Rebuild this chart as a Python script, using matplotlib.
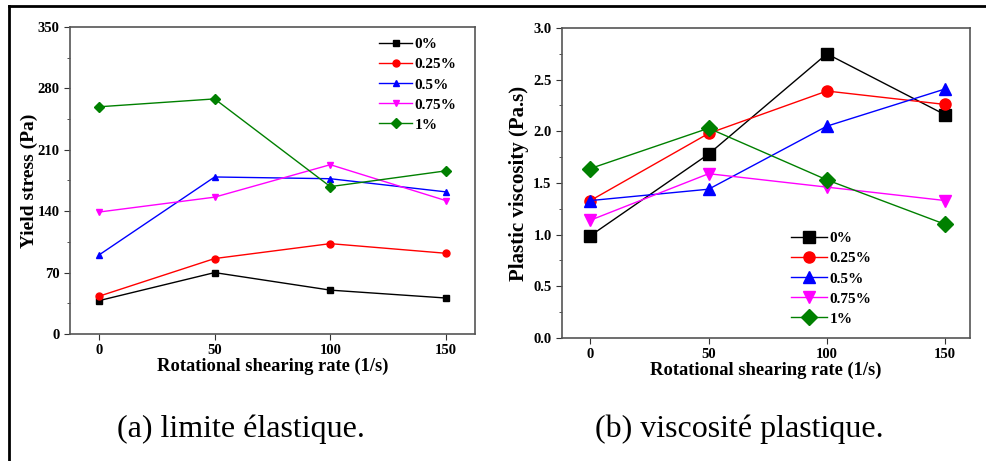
import matplotlib.pyplot as plt
from matplotlib.lines import Line2D
from matplotlib.ticker import MultipleLocator

plt.rcParams["font.family"] = "Liberation Serif"
plt.rcParams["font.weight"] = "bold"

rates = [0, 50, 100, 150]
labels = ["0%", "0.25%", "0.5%", "0.75%", "1%"]
colors = ["black", "red", "blue", "magenta", "green"]
markers = ["s", "o", "^", "v", "D"]

# yield stress (Pa)
yield_0 = [38, 70, 50, 41]
yield_025 = [43, 86, 103, 92]
yield_05 = [90, 179, 177, 162]
yield_075 = [139, 156, 193, 152]
yield_1 = [259, 268, 168, 186]

# plastic viscosity (Pa.s)
visc_0 = [0.99, 1.78, 2.75, 2.16]
visc_025 = [1.33, 1.98, 2.39, 2.26]
visc_05 = [1.33, 1.44, 2.05, 2.41]
visc_075 = [1.14, 1.59, 1.46, 1.33]
visc_1 = [1.64, 2.03, 1.53, 1.10]

yield_all = [yield_0, yield_025, yield_05, yield_075, yield_1]
visc_all = [visc_0, visc_025, visc_05, visc_075, visc_1]

fig = plt.figure(figsize=(9.87, 4.61), dpi=100)
ax1 = fig.add_axes([0.0709, 0.2755, 0.4103, 0.666])
ax2 = fig.add_axes([0.5694, 0.2668, 0.4134, 0.6725])

def style(ax):
    for s in ax.spines.values():
        s.set_color("#555555")
        s.set_linewidth(1.2)
    ax.tick_params(which="both", direction="out", top=False, right=False,
                   labelsize=10.5, color="#333333")
    ax.tick_params(which="major", length=4)
    ax.tick_params(which="minor", length=2.5)
    ax.xaxis.set_minor_locator(plt.NullLocator())
    ax.set_xticks(rates)
    ax.set_xlabel("Rotational shearing rate (1/s)", fontsize=13.3, fontweight="bold", labelpad=0)

# ── (a) yield stress ─────────────────────────────────────────────
for ys, lab, c, m in zip(yield_all, labels, colors, markers):
    ax1.plot(rates, ys, color=c, marker=m, markersize=5, linewidth=1, label=lab)
ax1.set_xlim(-12.5, 162.5)
ax1.set_ylim(0, 350)
ax1.yaxis.set_major_locator(MultipleLocator(70))
ax1.yaxis.set_minor_locator(MultipleLocator(35))
ax1.set_ylabel("Yield stress (Pa)", fontsize=14, fontweight="bold", labelpad=0)
style(ax1)
ax1.legend(loc="upper left", bbox_to_anchor=(0.74, 0.995), frameon=False,
           fontsize=11, handlelength=2.2, handletextpad=0.15, labelspacing=0.42,
           borderaxespad=0.2)

# ── (b) plastic viscosity ────────────────────────────────────────
for vs, lab, c, m in zip(visc_all, labels, colors, markers):
    ax2.plot(rates, vs, color=c, marker=m, markersize=8, linewidth=1, label=lab)
ax2.set_xlim(-12, 160.5)
ax2.set_ylim(0, 3.0)
ax2.yaxis.set_major_locator(MultipleLocator(0.5))
ax2.yaxis.set_minor_locator(MultipleLocator(0.25))
ax2.yaxis.set_major_formatter(plt.FormatStrFormatter("%.1f"))
ax2.set_ylabel("Plastic viscosity (Pa.s)", fontsize=15, fontweight="bold", labelpad=3)
style(ax2)
ax2.legend(loc="lower left", bbox_to_anchor=(0.54, 0.01), frameon=False,
           fontsize=11, handlelength=2.3, handletextpad=0.2, labelspacing=0.42,
           borderaxespad=0.2)

# captions
fig.text(0.244, 0.069, "(a) limite élastique.", ha="center", va="center",
         fontsize=23, fontweight="normal")
fig.text(0.7495, 0.069, "(b) viscosité plastique.", ha="center", va="center",
         fontsize=23, fontweight="normal")

# outer frame (top and left edges visible)
fig.add_artist(Line2D([0.009, 1.0], [0.987, 0.987], color="black", linewidth=2,
                      transform=fig.transFigure))
fig.add_artist(Line2D([0.009, 0.009], [0.0, 0.987], color="black", linewidth=2,
                      transform=fig.transFigure))

fig.savefig("out.png", dpi=100)
